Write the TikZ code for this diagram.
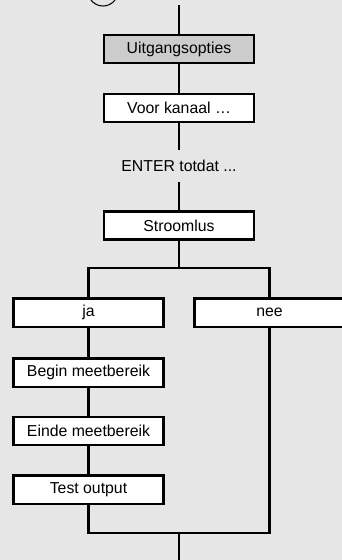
\documentclass[tikz,border=0pt]{standalone}
\usepackage{fontspec}
\setmainfont{Liberation Sans}
\usetikzlibrary{positioning}
\definecolor{panelgray}{HTML}{E6E6E6}
\definecolor{headgray}{HTML}{CCCCCC}
\tikzset{
  stepbox/.style={rectangle,draw=black,fill=white,line width=2pt,
    minimum width=4.5cm,minimum height=0.85cm,inner sep=0pt,
    font=\fontsize{13.5}{16}\selectfont},
  headbox/.style={stepbox,fill=headgray},
  labelnode/.style={rectangle,minimum height=0.96cm,inner sep=0pt,
    font=\fontsize{13.5}{16}\selectfont},
  flow/.style={line width=2pt,draw=black}
}

\begin{document}
\begin{tikzpicture}[x=0.03cm,y=-0.03cm]

  % Panel
  \clip (0,0) rectangle (342,560);
  \fill[panelgray] (0,0) rectangle (342,560);
  \draw[line width=0.9pt] (103,-9) circle (0.45cm);

  % Main chain
  \coordinate (top) at (179,5);
  \node[headbox] (uit) at (179,49) {Uitgangsopties};
  \node[stepbox] (voor) at (179,108) {Voor kanaal \dots};
  \node[labelnode] (enter) at (179,166) {ENTER totdat ...};
  \node[stepbox] (stroom) at (179,225.5) {Stroomlus};

  \draw[flow] (top) -- (uit);
  \draw[flow] (uit) -- (voor);
  \draw[flow] (voor) -- (enter);
  \draw[flow] (enter) -- (stroom);

  % Branches
  \coordinate (split) at (179,268);
  \coordinate (splitL) at (88.5,268);
  \coordinate (splitR) at (269.5,268);
  \node[stepbox] (ja) at (88.5,312.5) {ja};
  \node[stepbox] (nee) at (269.5,312.5) {nee};
  \node[stepbox] (begin) at (88.5,372.5) {Begin meetbereik};
  \node[stepbox] (einde) at (88.5,431) {Einde meetbereik};
  \node[stepbox] (test) at (88.5,489.5) {Test output};

  \draw[flow] (stroom) -- (split);
  \draw[flow] (ja) -- (splitL) -- (splitR) -- (nee);
  \draw[flow] (ja) -- (begin);
  \draw[flow] (begin) -- (einde);
  \draw[flow] (einde) -- (test);

  % Join
  \coordinate (joinL) at (88.5,533);
  \coordinate (joinR) at (269.5,533);
  \coordinate (join) at (179,532);
  \coordinate (bottom) at (179,562);
  \draw[flow] (test) -- (joinL) -- (joinR) -- (nee);
  \draw[flow] (join) -- (bottom);

\end{tikzpicture}
\end{document}
